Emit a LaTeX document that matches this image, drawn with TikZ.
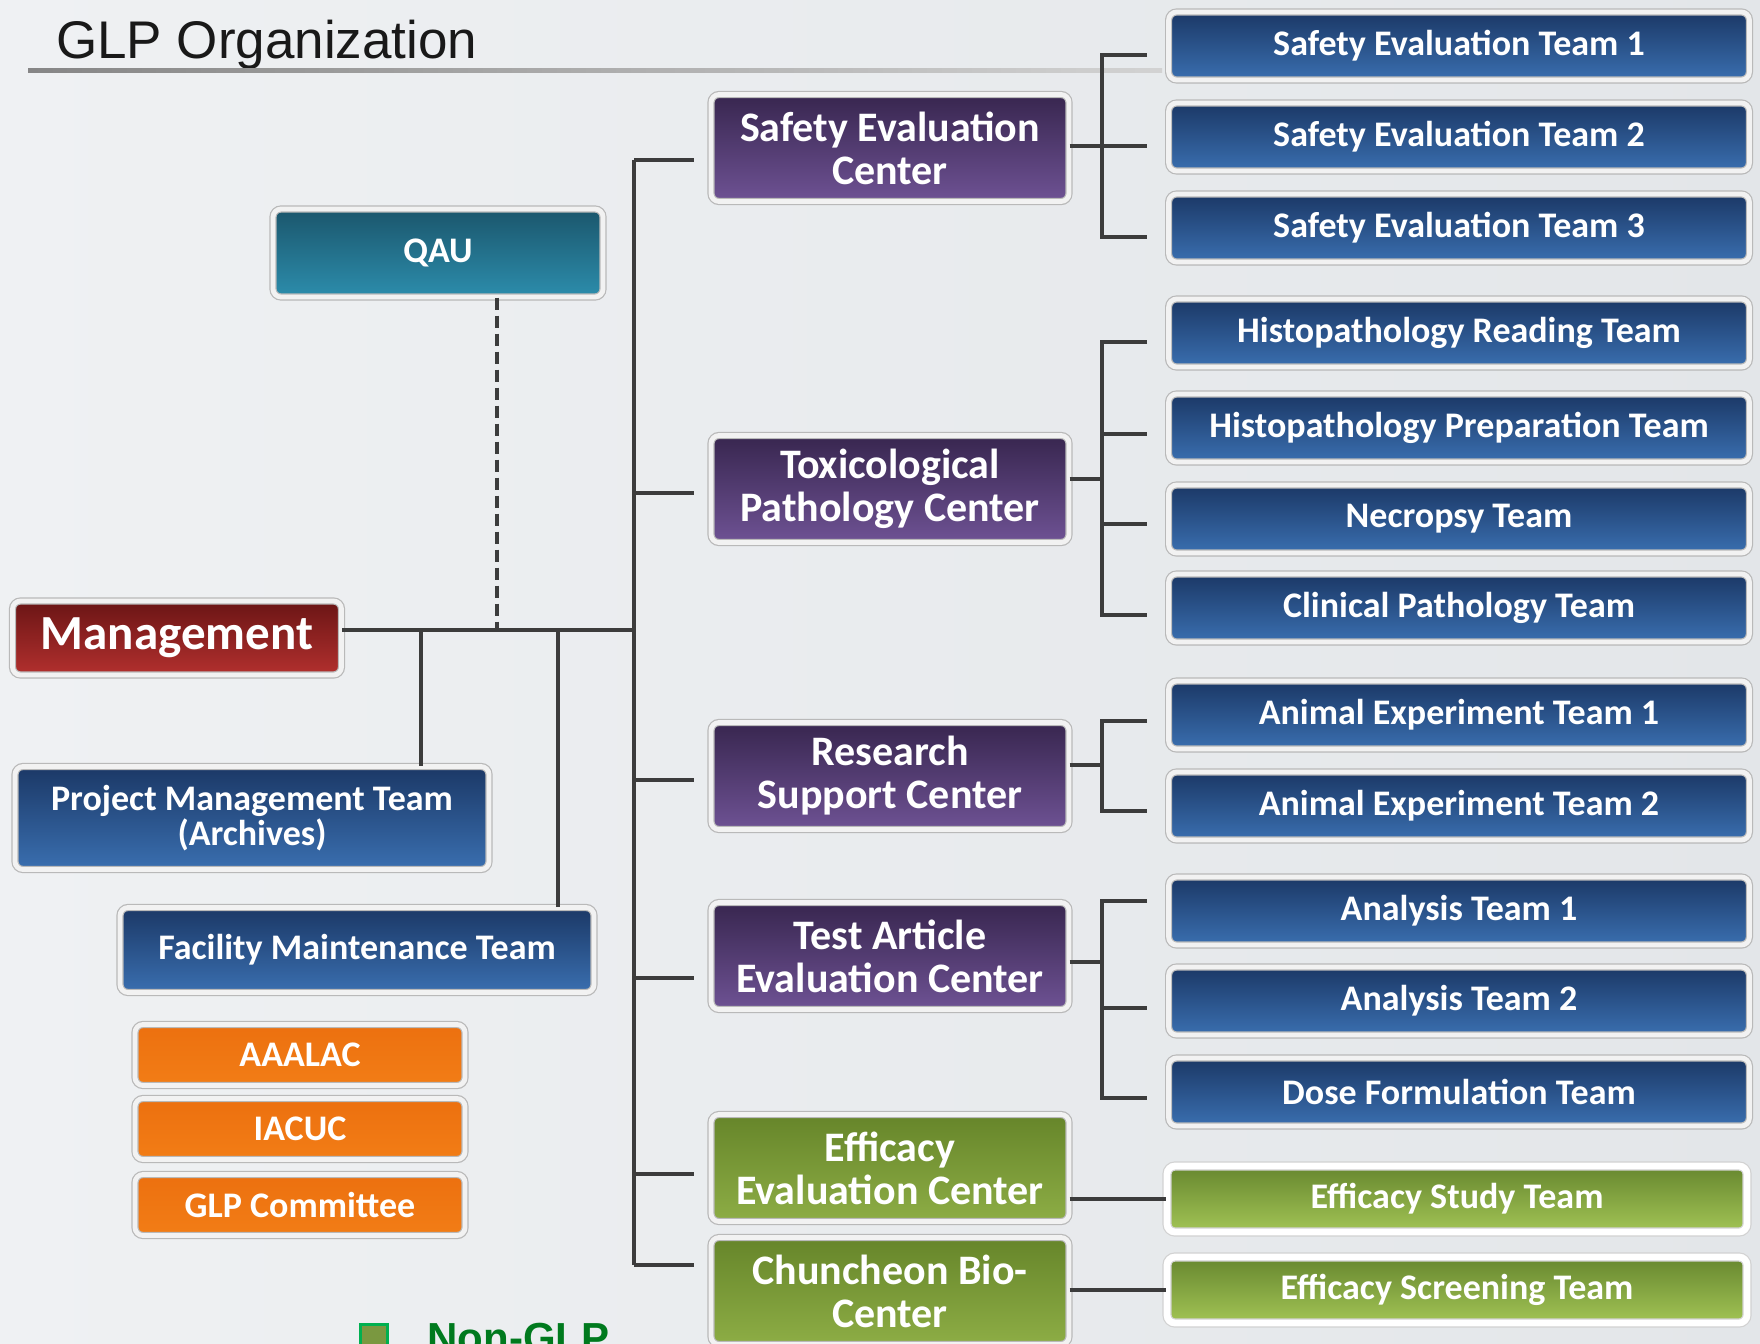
\documentclass[tikz,border=0pt]{standalone}
\usepackage{fontspec}
\setmainfont{Carlito}
\newfontfamily\titlefont{Liberation Sans}
\usetikzlibrary{shadows}
\definecolor{bgl}{HTML}{EFF1F3}
\definecolor{bgr}{HTML}{E3E6E9}
\definecolor{lineg}{HTML}{3C3C3C}
\definecolor{tbtop}{HTML}{1B3866}
\definecolor{tbmid}{HTML}{254C86}
\definecolor{tbbot}{HTML}{3A6FB0}
\definecolor{putop}{HTML}{38264F}
\definecolor{pubot}{HTML}{6E5294}
\definecolor{retop}{HTML}{6A1515}
\definecolor{rebot}{HTML}{B3302E}
\definecolor{tetop}{HTML}{1B566C}
\definecolor{tebot}{HTML}{2C8DAC}
\definecolor{ortop}{HTML}{EC700F}
\definecolor{orbot}{HTML}{F27D16}
\definecolor{gctop}{HTML}{66852A}
\definecolor{gcbot}{HTML}{8DAD45}
\definecolor{gttop}{HTML}{67872F}
\definecolor{gtbot}{HTML}{A2C455}
\definecolor{legfill}{HTML}{7A9840}
\definecolor{legborder}{HTML}{00B050}
\definecolor{legtext}{HTML}{007A1E}
\tikzset{
  box/.style={rounded corners=4pt, draw=gray!55, line width=0.6pt,
    double=white!90!gray, double distance=2.4pt, text=white,
    align=center, inner sep=0pt,
    drop shadow={opacity=0.25, shadow xshift=0.8pt, shadow yshift=-1.6pt}},
  teamfont/.style={font=\bfseries\fontsize{18}{20}\selectfont},
  team/.style={box, teamfont, minimum width=290.4pt, minimum height=34pt,
    top color=tbtop, middle color=tbmid, bottom color=tbbot},
  center/.style={box, font=\bfseries\fontsize{21}{21.5}\selectfont,
    minimum width=179pt, minimum height=53.5pt,
    top color=putop, bottom color=pubot},
  gcenter/.style={center, top color=gctop, bottom color=gcbot},
  gteam/.style={box, teamfont, draw=gray!35, double=white, double distance=3.4pt,
    minimum width=290pt, minimum height=33pt, top color=gttop, bottom color=gtbot},
  orange/.style={box, teamfont, minimum width=165pt, minimum height=30.5pt,
    top color=ortop, bottom color=orbot},
  conn/.style={draw=lineg, line width=2pt},
}
\begin{document}
\begin{tikzpicture}[x=0.5pt,y=-0.5pt]
\useasboundingbox (0,0) rectangle (1760,1343);
\clip (0,0) rectangle (1760,1343);
\fill[left color=bgl, right color=bgr] (0,0) rectangle (1760,1343);

% title
\node[anchor=base west, font=\titlefont\fontsize{26.5}{27}\selectfont, text=black!90] (title) at (49,59) {GLP Organization};
\fill[left color=gray!95, right color=gray!35] (28,69) rectangle (1162,73);

% left nodes
\node[box, font=\bfseries\fontsize{18}{20}\selectfont, minimum width=165pt, minimum height=44pt,
  top color=tetop, bottom color=tebot] (qau) at (438,253) {QAU};
\node[box, font=\bfseries\fontsize{24.5}{25}\selectfont, minimum width=164.5pt, minimum height=37pt,
  top color=retop, bottom color=rebot] (mgmt) at (177,638) {Management};
\node[box, font=\bfseries\fontsize{18}{15}\selectfont, minimum width=237pt, minimum height=51.5pt,
  top color=tbtop, middle color=tbmid, bottom color=tbbot] (pmt) at (252,818) {Project Management Team\\(Archives)};
\node[team, minimum width=237pt, minimum height=42.5pt] (fmt) at (357,950) {Facility Maintenance Team};
\node[orange] (aaalac) at (300,1055) {AAALAC};
\node[orange] (iacuc) at (300,1129) {IACUC};
\node[orange] (glpc) at (300,1205) {GLP Committee};

% centers
\node[center] (sec) at (890,148) {Safety Evaluation\\Center};
\node[center] (tpc) at (890,489) {Toxicological\\Pathology Center};
\node[center] (rsc) at (890,776) {Research\\Support Center};
\node[center] (taec) at (890,956) {Test Article\\Evaluation Center};
\node[gcenter] (eec) at (890,1168) {Efficacy\\Evaluation Center};
\node[gcenter] (cbc) at (890,1291) {Chuncheon Bio-\\Center};

% teams
\node[team] (se1) at (1459,46) {Safety Evaluation Team 1};
\node[team] (se2) at (1459,137) {Safety Evaluation Team 2};
\node[team] (se3) at (1459,228) {Safety Evaluation Team 3};
\node[team] (hrt) at (1459,333) {Histopathology Reading Team};
\node[team] (hpt) at (1459,428) {Histopathology Preparation Team};
\node[team] (nec) at (1459,519) {Necropsy Team};
\node[team] (cpt) at (1459,608) {Clinical Pathology Team};
\node[team] (ae1) at (1459,715) {Animal Experiment Team 1};
\node[team] (ae2) at (1459,806) {Animal Experiment Team 2};
\node[team] (an1) at (1459,911) {Analysis Team 1};
\node[team] (an2) at (1459,1001) {Analysis Team 2};
\node[team] (dft) at (1459,1092) {Dose Formulation Team};
\node[gteam] (est) at (1457,1199) {Efficacy Study Team};
\node[gteam] (scr) at (1457,1290) {Efficacy Screening Team};

% left connectors
\coordinate (j0) at (634,630);
\coordinate (d1) at (421,630);
\coordinate (d2) at (558,630);
\coordinate (d3) at (497,630);
\draw[conn] (mgmt.east |- j0) -- (j0);
\draw[conn] (d1) -- (d1 |- pmt.north);
\draw[conn] (d2) -- (d2 |- fmt.north);
\draw[conn, dash pattern=on 6pt off 3pt] (qau.south -| d3) -- (d3);

% trunk
\coordinate (t0) at (634,160);
\coordinate (t1) at (634,493);
\coordinate (t2) at (634,780);
\coordinate (t3) at (634,978);
\coordinate (t4) at (634,1174);
\coordinate (t5) at (634,1265);
\draw[conn] (t0) -- (t5);
\foreach \t in {t0,t1,t2,t3,t4,t5} \draw[conn] (\t) -- ++(60,0);

% SEC bracket
\coordinate (s0) at (1102,146);
\draw[conn] (sec.east |- s0) -- (s0) -- ++(45,0);
\draw[conn] (1147,55) -- (1102,55) -- (1102,237) -- (1147,237);
% TPC bracket
\coordinate (p0) at (1102,479);
\draw[conn] (tpc.east |- p0) -- (p0);
\draw[conn] (1147,342) -- (1102,342) -- (1102,615) -- (1147,615);
\draw[conn] (1102,434) -- (1147,434);
\draw[conn] (1102,524) -- (1147,524);
% RSC bracket
\coordinate (r0) at (1102,765);
\draw[conn] (rsc.east |- r0) -- (r0);
\draw[conn] (1147,721) -- (1102,721) -- (1102,811) -- (1147,811);
% TAEC bracket
\coordinate (a0) at (1102,962);
\draw[conn] (taec.east |- a0) -- (a0);
\draw[conn] (1147,901) -- (1102,901) -- (1102,1098) -- (1147,1098);
\draw[conn] (1102,1008) -- (1147,1008);
% green
\draw[conn] (est.west -| eec.east) -- (est.west);
\draw[conn] (scr.west -| cbc.east) -- (scr.west);

% legend
\node[draw=legborder, line width=1.5pt, fill=legfill, minimum size=13.5pt, inner sep=0pt] (legbox) at (374,1338) {};
\node[anchor=base west, font=\titlefont\bfseries\fontsize{21}{21}\selectfont, text=legtext, inner sep=0pt] (legtxt) at (427,1352) {Non-GLP};
\end{tikzpicture}
\end{document}
